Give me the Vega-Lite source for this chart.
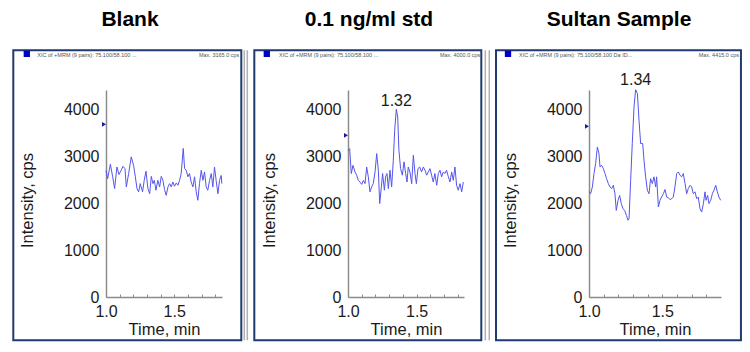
{
  "$schema": "https://vega.github.io/schema/vega-lite/v6.json",
  "background": "white",
  "padding": {"left": 12, "top": 9, "right": 4, "bottom": 4},
  "spacing": 4,
  "config": {
    "font": "Liberation Sans",
    "view": {"stroke": null},
    "title": {"font": "Liberation Sans", "fontSize": 21, "fontWeight": "bold", "color": "#000000", "anchor": "middle", "baseline": "alphabetic", "offset": 19, "frame": "group"},
    "axis": {"labelFont": "Liberation Sans", "titleFont": "Liberation Sans", "labelFontSize": 16, "titleFontSize": 16.5, "titleFontWeight": "normal", "labelColor": "#1a1a1a", "titleColor": "#1a1a1a", "domainColor": "#8c8c8c", "domainWidth": 1.5, "tickColor": "#8c8c8c", "grid": false, "zindex": 1},
    "axisX": {"labelOverlap": false, "labelFlush": false, "labelBound": false, "tickSize": -3, "labelPadding": 9, "titlePadding": 2},
    "axisY": {"ticks": false, "labelPadding": 7, "titlePadding": 28, "titleY": 110}
  },
  "datasets": {
    "blank": [
      {"t":1.000,"v":2700},{"t":1.012,"v":2520},{"t":1.032,"v":2830},{"t":1.049,"v":2560},{"t":1.063,"v":2310},{"t":1.080,"v":2770},{"t":1.095,"v":2610},{"t":1.110,"v":2690},{"t":1.124,"v":2785},{"t":1.139,"v":2735},{"t":1.149,"v":2345},{"t":1.166,"v":2630},{"t":1.185,"v":2985},{"t":1.202,"v":2805},{"t":1.215,"v":2560},{"t":1.227,"v":2310},{"t":1.239,"v":2240},{"t":1.251,"v":2415},{"t":1.268,"v":2240},{"t":1.280,"v":2485},{"t":1.293,"v":2680},{"t":1.307,"v":2310},{"t":1.320,"v":2200},{"t":1.332,"v":2570},{"t":1.344,"v":2415},{"t":1.354,"v":2485},{"t":1.366,"v":2275},{"t":1.380,"v":2485},{"t":1.393,"v":2345},{"t":1.405,"v":2570},{"t":1.417,"v":2485},{"t":1.429,"v":2290},{"t":1.441,"v":2165},{"t":1.454,"v":2345},{"t":1.466,"v":2415},{"t":1.478,"v":2345},{"t":1.490,"v":2450},{"t":1.502,"v":2360},{"t":1.515,"v":2430},{"t":1.527,"v":2380},{"t":1.539,"v":2485},{"t":1.551,"v":2630},{"t":1.566,"v":3165},{"t":1.576,"v":2735},{"t":1.588,"v":2700},{"t":1.600,"v":2560},{"t":1.612,"v":2630},{"t":1.624,"v":2450},{"t":1.637,"v":2345},{"t":1.649,"v":2560},{"t":1.661,"v":2240},{"t":1.673,"v":2060},{"t":1.685,"v":2415},{"t":1.698,"v":2700},{"t":1.710,"v":2485},{"t":1.722,"v":2665},{"t":1.734,"v":2345},{"t":1.746,"v":2275},{"t":1.759,"v":2485},{"t":1.771,"v":2630},{"t":1.783,"v":2345},{"t":1.795,"v":2770},{"t":1.807,"v":2485},{"t":1.820,"v":2200},{"t":1.832,"v":2485},{"t":1.844,"v":2590},{"t":1.849,"v":2415}
    ],
    "std": [
      {"t":1.000,"v":3125},{"t":1.012,"v":3160},{"t":1.024,"v":2630},{"t":1.036,"v":2805},{"t":1.051,"v":2665},{"t":1.063,"v":2595},{"t":1.075,"v":2485},{"t":1.087,"v":2450},{"t":1.100,"v":2400},{"t":1.112,"v":2485},{"t":1.124,"v":2415},{"t":1.136,"v":2770},{"t":1.148,"v":2560},{"t":1.160,"v":2240},{"t":1.172,"v":2345},{"t":1.184,"v":2415},{"t":1.197,"v":2665},{"t":1.209,"v":3055},{"t":1.221,"v":2700},{"t":1.231,"v":1990},{"t":1.243,"v":2345},{"t":1.252,"v":2630},{"t":1.265,"v":2275},{"t":1.274,"v":2560},{"t":1.284,"v":2630},{"t":1.294,"v":2310},{"t":1.306,"v":2700},{"t":1.318,"v":2345},{"t":1.330,"v":2915},{"t":1.340,"v":3550},{"t":1.352,"v":4000},{"t":1.362,"v":3835},{"t":1.371,"v":3125},{"t":1.383,"v":2735},{"t":1.396,"v":2595},{"t":1.408,"v":2880},{"t":1.420,"v":2630},{"t":1.430,"v":2450},{"t":1.439,"v":2770},{"t":1.451,"v":2665},{"t":1.464,"v":2415},{"t":1.476,"v":3020},{"t":1.488,"v":2630},{"t":1.498,"v":2415},{"t":1.510,"v":2735},{"t":1.522,"v":2770},{"t":1.536,"v":2665},{"t":1.549,"v":2770},{"t":1.561,"v":2700},{"t":1.573,"v":2595},{"t":1.585,"v":2665},{"t":1.597,"v":2735},{"t":1.609,"v":2595},{"t":1.621,"v":2450},{"t":1.633,"v":2630},{"t":1.646,"v":2380},{"t":1.658,"v":2630},{"t":1.670,"v":2700},{"t":1.682,"v":2560},{"t":1.694,"v":2665},{"t":1.706,"v":2630},{"t":1.718,"v":2700},{"t":1.731,"v":2560},{"t":1.743,"v":2450},{"t":1.755,"v":2665},{"t":1.767,"v":2485},{"t":1.779,"v":2770},{"t":1.791,"v":2380},{"t":1.803,"v":2275},{"t":1.816,"v":2415},{"t":1.828,"v":2240},{"t":1.840,"v":2450}
    ],
    "sultan": [
      {"t":1.000,"v":2240},{"t":1.011,"v":2200},{"t":1.023,"v":2345},{"t":1.034,"v":2630},{"t":1.045,"v":2840},{"t":1.057,"v":3195},{"t":1.068,"v":3055},{"t":1.075,"v":2770},{"t":1.086,"v":2805},{"t":1.098,"v":2735},{"t":1.109,"v":2630},{"t":1.120,"v":2520},{"t":1.132,"v":2415},{"t":1.143,"v":2345},{"t":1.155,"v":2310},{"t":1.166,"v":2380},{"t":1.177,"v":2200},{"t":1.186,"v":1845},{"t":1.198,"v":2060},{"t":1.209,"v":2165},{"t":1.220,"v":1990},{"t":1.232,"v":1880},{"t":1.243,"v":1845},{"t":1.255,"v":1740},{"t":1.266,"v":1635},{"t":1.273,"v":1670},{"t":1.284,"v":2485},{"t":1.295,"v":3270},{"t":1.307,"v":4050},{"t":1.318,"v":4415},{"t":1.330,"v":4335},{"t":1.341,"v":3765},{"t":1.352,"v":3270},{"t":1.366,"v":3270},{"t":1.375,"v":2915},{"t":1.386,"v":2560},{"t":1.398,"v":2275},{"t":1.409,"v":2200},{"t":1.420,"v":2520},{"t":1.432,"v":2415},{"t":1.443,"v":2560},{"t":1.455,"v":2345},{"t":1.461,"v":2560},{"t":1.473,"v":1920},{"t":1.484,"v":2060},{"t":1.495,"v":2130},{"t":1.507,"v":2200},{"t":1.518,"v":2290},{"t":1.530,"v":2130},{"t":1.541,"v":2115},{"t":1.552,"v":2075},{"t":1.564,"v":2095},{"t":1.575,"v":2130},{"t":1.586,"v":2345},{"t":1.598,"v":2630},{"t":1.609,"v":2665},{"t":1.620,"v":2595},{"t":1.632,"v":2560},{"t":1.643,"v":2630},{"t":1.655,"v":2415},{"t":1.666,"v":2200},{"t":1.677,"v":2310},{"t":1.689,"v":2380},{"t":1.700,"v":2345},{"t":1.711,"v":2200},{"t":1.723,"v":2240},{"t":1.734,"v":2095},{"t":1.745,"v":2130},{"t":1.757,"v":1880},{"t":1.768,"v":1810},{"t":1.780,"v":1990},{"t":1.791,"v":2240},{"t":1.798,"v":2060},{"t":1.809,"v":2165},{"t":1.818,"v":1990},{"t":1.830,"v":2060},{"t":1.841,"v":2200},{"t":1.852,"v":2275},{"t":1.864,"v":2380},{"t":1.875,"v":2240},{"t":1.886,"v":2130},{"t":1.898,"v":2060}
    ],
    "peaks_std": [{"t":1.352,"v":4000,"label":"1.32"}],
    "peaks_sultan": [{"t":1.318,"v":4415,"label":"1.34"}]
  },
  "hconcat": [
    {
      "width": 116, "height": 207,
      "title": {"text": "Blank", "dx": -34},
      "layer": [
        {"data": {"values": [{}]}, "mark": {"type": "rect", "fill": "transparent", "stroke": "#1f3a6e", "strokeWidth": 2},
         "encoding": {"x": {"datum": 0.3207, "type": "quantitative", "scale": {"domain": [1, 1.85], "zero": false, "nice": false}, "axis": {"title": "Time, min", "values": [1, 1.1, 1.2, 1.3, 1.4, 1.5, 1.6, 1.7, 1.8], "format": ".1f", "labelExpr": "indexof(['1.0', '1.5'], datum.label) >= 0 ? datum.label : ''"}}, "x2": {"datum": 1.9914}, "y": {"datum": -922, "type": "quantitative", "scale": {"domain": [0, 4410], "nice": false}, "axis": {"title": "Intensity, cps", "values": [0, 1000, 2000, 3000, 4000], "format": "d"}}, "y2": {"datum": 5256}}},
        {"data": {"values": [{}]}, "mark": {"type": "rule", "stroke": "#b0b0b0", "strokeWidth": 1.5},
         "encoding": {"x": {"datum": 2.0134, "type": "quantitative", "scale": {"domain": [1, 1.85], "zero": false, "nice": false}, "axis": {"title": "Time, min", "values": [1, 1.1, 1.2, 1.3, 1.4, 1.5, 1.6, 1.7, 1.8], "format": ".1f", "labelExpr": "indexof(['1.0', '1.5'], datum.label) >= 0 ? datum.label : ''"}}, "y": {"datum": -922, "type": "quantitative", "scale": {"domain": [0, 4410], "nice": false}, "axis": {"title": "Intensity, cps", "values": [0, 1000, 2000, 3000, 4000], "format": "d"}}, "y2": {"datum": 5256}}},
        {"data": {"values": [{}]}, "mark": {"type": "rule", "stroke": "#b0b0b0", "strokeWidth": 1.5},
         "encoding": {"x": {"datum": 2.0354, "type": "quantitative", "scale": {"domain": [1, 1.85], "zero": false, "nice": false}, "axis": {"title": "Time, min", "values": [1, 1.1, 1.2, 1.3, 1.4, 1.5, 1.6, 1.7, 1.8], "format": ".1f", "labelExpr": "indexof(['1.0', '1.5'], datum.label) >= 0 ? datum.label : ''"}}, "y": {"datum": -922, "type": "quantitative", "scale": {"domain": [0, 4410], "nice": false}, "axis": {"title": "Intensity, cps", "values": [0, 1000, 2000, 3000, 4000], "format": "d"}}, "y2": {"datum": 5256}}},
        {"data": {"values": [{}]}, "mark": {"type": "text", "fontSize": 5.5, "color": "#555555", "align": "left", "baseline": "middle"},
         "encoding": {"x": {"datum": 0.4966, "type": "quantitative", "scale": {"domain": [1, 1.85], "zero": false, "nice": false}, "axis": {"title": "Time, min", "values": [1, 1.1, 1.2, 1.3, 1.4, 1.5, 1.6, 1.7, 1.8], "format": ".1f", "labelExpr": "indexof(['1.0', '1.5'], datum.label) >= 0 ? datum.label : ''"}}, "y": {"datum": 5149, "type": "quantitative", "scale": {"domain": [0, 4410], "nice": false}, "axis": {"title": "Intensity, cps", "values": [0, 1000, 2000, 3000, 4000], "format": "d"}}, "text": {"value": "XIC of +MRM (9 pairs): 75.100/58.100 ..."}}},
        {"data": {"values": [{}]}, "mark": {"type": "text", "fontSize": 5.5, "color": "#555555", "align": "right", "baseline": "middle"},
         "encoding": {"x": {"datum": 1.9768, "type": "quantitative", "scale": {"domain": [1, 1.85], "zero": false, "nice": false}, "axis": {"title": "Time, min", "values": [1, 1.1, 1.2, 1.3, 1.4, 1.5, 1.6, 1.7, 1.8], "format": ".1f", "labelExpr": "indexof(['1.0', '1.5'], datum.label) >= 0 ? datum.label : ''"}}, "y": {"datum": 5149, "type": "quantitative", "scale": {"domain": [0, 4410], "nice": false}, "axis": {"title": "Intensity, cps", "values": [0, 1000, 2000, 3000, 4000], "format": "d"}}, "text": {"value": "Max. 3165.0 cps"}}},
        {"data": {"values": [{}]}, "mark": {"type": "point", "shape": "square", "filled": true, "color": "#0000cc", "size": 40, "opacity": 1},
         "encoding": {"x": {"datum": 0.4197, "type": "quantitative", "scale": {"domain": [1, 1.85], "zero": false, "nice": false}, "axis": {"title": "Time, min", "values": [1, 1.1, 1.2, 1.3, 1.4, 1.5, 1.6, 1.7, 1.8], "format": ".1f", "labelExpr": "indexof(['1.0', '1.5'], datum.label) >= 0 ? datum.label : ''"}}, "y": {"datum": 5181, "type": "quantitative", "scale": {"domain": [0, 4410], "nice": false}, "axis": {"title": "Intensity, cps", "values": [0, 1000, 2000, 3000, 4000], "format": "d"}}}},
        {"data": {"name": "blank"}, "mark": {"type": "line", "color": "#5555ee", "strokeWidth": 1},
         "encoding": {
           "x": {"field": "t", "type": "quantitative", "scale": {"domain": [1, 1.85], "zero": false, "nice": false}, "axis": {"title": "Time, min", "values": [1, 1.1, 1.2, 1.3, 1.4, 1.5, 1.6, 1.7, 1.8], "format": ".1f", "labelExpr": "indexof(['1.0', '1.5'], datum.label) >= 0 ? datum.label : ''"}},
           "y": {"field": "v", "type": "quantitative", "scale": {"domain": [0, 4410], "nice": false}, "axis": {"title": "Intensity, cps", "values": [0, 1000, 2000, 3000, 4000], "format": "d"}}}},
        {"data": {"values": [{}]}, "mark": {"type": "point", "shape": "triangle-right", "filled": true, "color": "#1a1aa0", "size": 22, "opacity": 1, "xOffset": -2},
         "encoding": {"x": {"datum": 1.0, "type": "quantitative", "scale": {"domain": [1, 1.85], "zero": false, "nice": false}, "axis": {"title": "Time, min", "values": [1, 1.1, 1.2, 1.3, 1.4, 1.5, 1.6, 1.7, 1.8], "format": ".1f", "labelExpr": "indexof(['1.0', '1.5'], datum.label) >= 0 ? datum.label : ''"}}, "y": {"datum": 3679, "type": "quantitative", "scale": {"domain": [0, 4410], "nice": false}, "axis": {"title": "Intensity, cps", "values": [0, 1000, 2000, 3000, 4000], "format": "d"}}}}
      ]
    },
    {
      "width": 116, "height": 207,
      "title": {"text": "0.1 ng/ml std", "dx": -37},
      "layer": [
        {"data": {"values": [{}]}, "mark": {"type": "rect", "fill": "transparent", "stroke": "#1f3a6e", "strokeWidth": 2},
         "encoding": {"x": {"datum": 0.3175, "type": "quantitative", "scale": {"domain": [1, 1.845], "zero": false, "nice": false}, "axis": {"title": "Time, min", "values": [1, 1.1, 1.2, 1.3, 1.4, 1.5, 1.6, 1.7, 1.8], "format": ".1f", "labelExpr": "indexof(['1.0', '1.5'], datum.label) >= 0 ? datum.label : ''"}}, "x2": {"datum": 1.971}, "y": {"datum": -922, "type": "quantitative", "scale": {"domain": [0, 4410], "nice": false}, "axis": {"title": "Intensity, cps", "values": [0, 1000, 2000, 3000, 4000], "format": "d"}}, "y2": {"datum": 5256}}},
        {"data": {"values": [{}]}, "mark": {"type": "rule", "stroke": "#b0b0b0", "strokeWidth": 1.5},
         "encoding": {"x": {"datum": 2.0002, "type": "quantitative", "scale": {"domain": [1, 1.845], "zero": false, "nice": false}, "axis": {"title": "Time, min", "values": [1, 1.1, 1.2, 1.3, 1.4, 1.5, 1.6, 1.7, 1.8], "format": ".1f", "labelExpr": "indexof(['1.0', '1.5'], datum.label) >= 0 ? datum.label : ''"}}, "y": {"datum": -922, "type": "quantitative", "scale": {"domain": [0, 4410], "nice": false}, "axis": {"title": "Intensity, cps", "values": [0, 1000, 2000, 3000, 4000], "format": "d"}}, "y2": {"datum": 5256}}},
        {"data": {"values": [{}]}, "mark": {"type": "rule", "stroke": "#b0b0b0", "strokeWidth": 1.5},
         "encoding": {"x": {"datum": 2.0293, "type": "quantitative", "scale": {"domain": [1, 1.845], "zero": false, "nice": false}, "axis": {"title": "Time, min", "values": [1, 1.1, 1.2, 1.3, 1.4, 1.5, 1.6, 1.7, 1.8], "format": ".1f", "labelExpr": "indexof(['1.0', '1.5'], datum.label) >= 0 ? datum.label : ''"}}, "y": {"datum": -922, "type": "quantitative", "scale": {"domain": [0, 4410], "nice": false}, "axis": {"title": "Intensity, cps", "values": [0, 1000, 2000, 3000, 4000], "format": "d"}}, "y2": {"datum": 5256}}},
        {"data": {"values": [{}]}, "mark": {"type": "text", "fontSize": 5.5, "color": "#555555", "align": "left", "baseline": "middle"},
         "encoding": {"x": {"datum": 0.4974, "type": "quantitative", "scale": {"domain": [1, 1.845], "zero": false, "nice": false}, "axis": {"title": "Time, min", "values": [1, 1.1, 1.2, 1.3, 1.4, 1.5, 1.6, 1.7, 1.8], "format": ".1f", "labelExpr": "indexof(['1.0', '1.5'], datum.label) >= 0 ? datum.label : ''"}}, "y": {"datum": 5149, "type": "quantitative", "scale": {"domain": [0, 4410], "nice": false}, "axis": {"title": "Intensity, cps", "values": [0, 1000, 2000, 3000, 4000], "format": "d"}}, "text": {"value": "XIC of +MRM (9 pairs): 75.100/58.100 ..."}}},
        {"data": {"values": [{}]}, "mark": {"type": "text", "fontSize": 5.5, "color": "#555555", "align": "right", "baseline": "middle"},
         "encoding": {"x": {"datum": 1.964, "type": "quantitative", "scale": {"domain": [1, 1.845], "zero": false, "nice": false}, "axis": {"title": "Time, min", "values": [1, 1.1, 1.2, 1.3, 1.4, 1.5, 1.6, 1.7, 1.8], "format": ".1f", "labelExpr": "indexof(['1.0', '1.5'], datum.label) >= 0 ? datum.label : ''"}}, "y": {"datum": 5149, "type": "quantitative", "scale": {"domain": [0, 4410], "nice": false}, "axis": {"title": "Intensity, cps", "values": [0, 1000, 2000, 3000, 4000], "format": "d"}}, "text": {"value": "Max. 4000.0 cps"}}},
        {"data": {"values": [{}]}, "mark": {"type": "point", "shape": "square", "filled": true, "color": "#0000cc", "size": 40, "opacity": 1},
         "encoding": {"x": {"datum": 0.4085, "type": "quantitative", "scale": {"domain": [1, 1.845], "zero": false, "nice": false}, "axis": {"title": "Time, min", "values": [1, 1.1, 1.2, 1.3, 1.4, 1.5, 1.6, 1.7, 1.8], "format": ".1f", "labelExpr": "indexof(['1.0', '1.5'], datum.label) >= 0 ? datum.label : ''"}}, "y": {"datum": 5181, "type": "quantitative", "scale": {"domain": [0, 4410], "nice": false}, "axis": {"title": "Intensity, cps", "values": [0, 1000, 2000, 3000, 4000], "format": "d"}}}},
        {"data": {"name": "std"}, "mark": {"type": "line", "color": "#5555ee", "strokeWidth": 1},
         "encoding": {
           "x": {"field": "t", "type": "quantitative", "scale": {"domain": [1, 1.845], "zero": false, "nice": false}, "axis": {"title": "Time, min", "values": [1, 1.1, 1.2, 1.3, 1.4, 1.5, 1.6, 1.7, 1.8], "format": ".1f", "labelExpr": "indexof(['1.0', '1.5'], datum.label) >= 0 ? datum.label : ''"}},
           "y": {"field": "v", "type": "quantitative", "scale": {"domain": [0, 4410], "nice": false}, "axis": {"title": "Intensity, cps", "values": [0, 1000, 2000, 3000, 4000], "format": "d"}}}},
        {"data": {"name": "peaks_std"}, "mark": {"type": "text", "fontSize": 16, "color": "#1a1a1a", "align": "center", "baseline": "alphabetic", "dy": -3},
         "encoding": {"x": {"field": "t", "type": "quantitative", "scale": {"domain": [1, 1.845], "zero": false, "nice": false}, "axis": {"title": "Time, min", "values": [1, 1.1, 1.2, 1.3, 1.4, 1.5, 1.6, 1.7, 1.8], "format": ".1f", "labelExpr": "indexof(['1.0', '1.5'], datum.label) >= 0 ? datum.label : ''"}}, "y": {"field": "v", "type": "quantitative", "scale": {"domain": [0, 4410], "nice": false}, "axis": {"title": "Intensity, cps", "values": [0, 1000, 2000, 3000, 4000], "format": "d"}}, "text": {"field": "label"}}},
        {"data": {"values": [{}]}, "mark": {"type": "point", "shape": "triangle-right", "filled": true, "color": "#1a1aa0", "size": 22, "opacity": 1, "xOffset": -2},
         "encoding": {"x": {"datum": 1.0, "type": "quantitative", "scale": {"domain": [1, 1.845], "zero": false, "nice": false}, "axis": {"title": "Time, min", "values": [1, 1.1, 1.2, 1.3, 1.4, 1.5, 1.6, 1.7, 1.8], "format": ".1f", "labelExpr": "indexof(['1.0', '1.5'], datum.label) >= 0 ? datum.label : ''"}}, "y": {"datum": 3445, "type": "quantitative", "scale": {"domain": [0, 4410], "nice": false}, "axis": {"title": "Intensity, cps", "values": [0, 1000, 2000, 3000, 4000], "format": "d"}}}}
      ]
    },
    {
      "width": 132, "height": 207,
      "title": {"text": "Sultan Sample", "dx": -36},
      "layer": [
        {"data": {"values": [{}]}, "mark": {"type": "rect", "fill": "transparent", "stroke": "#1f3a6e", "strokeWidth": 2},
         "encoding": {"x": {"datum": 0.366, "type": "quantitative", "scale": {"domain": [1, 1.9], "zero": false, "nice": false}, "axis": {"title": "Time, min", "values": [1, 1.1, 1.2, 1.3, 1.4, 1.5, 1.6, 1.7, 1.8], "format": ".1f", "labelExpr": "indexof(['1.0', '1.5'], datum.label) >= 0 ? datum.label : ''"}}, "x2": {"datum": 2.036}, "y": {"datum": -922, "type": "quantitative", "scale": {"domain": [0, 4410], "nice": false}, "axis": {"title": "Intensity, cps", "values": [0, 1000, 2000, 3000, 4000], "format": "d"}}, "y2": {"datum": 5256}}},
        {"data": {"values": [{}]}, "mark": {"type": "text", "fontSize": 5.5, "color": "#555555", "align": "left", "baseline": "middle"},
         "encoding": {"x": {"datum": 0.5227, "type": "quantitative", "scale": {"domain": [1, 1.9], "zero": false, "nice": false}, "axis": {"title": "Time, min", "values": [1, 1.1, 1.2, 1.3, 1.4, 1.5, 1.6, 1.7, 1.8], "format": ".1f", "labelExpr": "indexof(['1.0', '1.5'], datum.label) >= 0 ? datum.label : ''"}}, "y": {"datum": 5149, "type": "quantitative", "scale": {"domain": [0, 4410], "nice": false}, "axis": {"title": "Intensity, cps", "values": [0, 1000, 2000, 3000, 4000], "format": "d"}}, "text": {"value": "XIC of +MRM (9 pairs): 75.100/58.100 Da ID..."}}},
        {"data": {"values": [{}]}, "mark": {"type": "text", "fontSize": 5.5, "color": "#555555", "align": "right", "baseline": "middle"},
         "encoding": {"x": {"datum": 2.0227, "type": "quantitative", "scale": {"domain": [1, 1.9], "zero": false, "nice": false}, "axis": {"title": "Time, min", "values": [1, 1.1, 1.2, 1.3, 1.4, 1.5, 1.6, 1.7, 1.8], "format": ".1f", "labelExpr": "indexof(['1.0', '1.5'], datum.label) >= 0 ? datum.label : ''"}}, "y": {"datum": 5149, "type": "quantitative", "scale": {"domain": [0, 4410], "nice": false}, "axis": {"title": "Intensity, cps", "values": [0, 1000, 2000, 3000, 4000], "format": "d"}}, "text": {"value": "Max. 4415.0 cps"}}},
        {"data": {"values": [{}]}, "mark": {"type": "point", "shape": "square", "filled": true, "color": "#0000cc", "size": 40, "opacity": 1},
         "encoding": {"x": {"datum": 0.4477, "type": "quantitative", "scale": {"domain": [1, 1.9], "zero": false, "nice": false}, "axis": {"title": "Time, min", "values": [1, 1.1, 1.2, 1.3, 1.4, 1.5, 1.6, 1.7, 1.8], "format": ".1f", "labelExpr": "indexof(['1.0', '1.5'], datum.label) >= 0 ? datum.label : ''"}}, "y": {"datum": 5181, "type": "quantitative", "scale": {"domain": [0, 4410], "nice": false}, "axis": {"title": "Intensity, cps", "values": [0, 1000, 2000, 3000, 4000], "format": "d"}}}},
        {"data": {"name": "sultan"}, "mark": {"type": "line", "color": "#5555ee", "strokeWidth": 1},
         "encoding": {
           "x": {"field": "t", "type": "quantitative", "scale": {"domain": [1, 1.9], "zero": false, "nice": false}, "axis": {"title": "Time, min", "values": [1, 1.1, 1.2, 1.3, 1.4, 1.5, 1.6, 1.7, 1.8], "format": ".1f", "labelExpr": "indexof(['1.0', '1.5'], datum.label) >= 0 ? datum.label : ''"}},
           "y": {"field": "v", "type": "quantitative", "scale": {"domain": [0, 4410], "nice": false}, "axis": {"title": "Intensity, cps", "values": [0, 1000, 2000, 3000, 4000], "format": "d"}}}},
        {"data": {"name": "peaks_sultan"}, "mark": {"type": "text", "fontSize": 16, "color": "#1a1a1a", "align": "center", "baseline": "alphabetic", "dy": -5},
         "encoding": {"x": {"field": "t", "type": "quantitative", "scale": {"domain": [1, 1.9], "zero": false, "nice": false}, "axis": {"title": "Time, min", "values": [1, 1.1, 1.2, 1.3, 1.4, 1.5, 1.6, 1.7, 1.8], "format": ".1f", "labelExpr": "indexof(['1.0', '1.5'], datum.label) >= 0 ? datum.label : ''"}}, "y": {"field": "v", "type": "quantitative", "scale": {"domain": [0, 4410], "nice": false}, "axis": {"title": "Intensity, cps", "values": [0, 1000, 2000, 3000, 4000], "format": "d"}}, "text": {"field": "label"}}},
        {"data": {"values": [{}]}, "mark": {"type": "point", "shape": "triangle-right", "filled": true, "color": "#1a1aa0", "size": 22, "opacity": 1, "xOffset": -2},
         "encoding": {"x": {"datum": 1.0, "type": "quantitative", "scale": {"domain": [1, 1.9], "zero": false, "nice": false}, "axis": {"title": "Time, min", "values": [1, 1.1, 1.2, 1.3, 1.4, 1.5, 1.6, 1.7, 1.8], "format": ".1f", "labelExpr": "indexof(['1.0', '1.5'], datum.label) >= 0 ? datum.label : ''"}}, "y": {"datum": 3636, "type": "quantitative", "scale": {"domain": [0, 4410], "nice": false}, "axis": {"title": "Intensity, cps", "values": [0, 1000, 2000, 3000, 4000], "format": "d"}}}}
      ]
    }
  ]
}
